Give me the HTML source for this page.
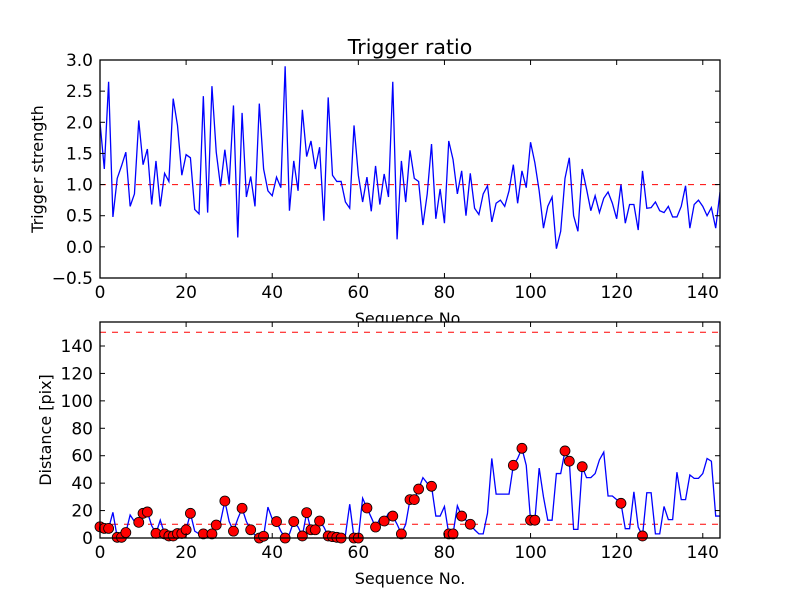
<!DOCTYPE html>
<html><head><meta charset="utf-8"><style>
html,body{margin:0;padding:0;background:#fff}
svg{display:block;font-family:"DejaVu Sans","Liberation Sans",sans-serif}
</style></head><body>
<svg id="chart" width="800" height="600" viewBox="0 0 800 600">
<rect width="800" height="600" fill="#fff"/>
<g id="top"></g>
<g id="bot"></g>
</svg>
<script>
const strength=[2.0,1.25,2.65,0.48,1.1,1.3,1.52,0.65,0.85,2.03,1.32,1.57,0.68,1.38,0.65,1.18,1.05,2.38,1.95,1.15,1.48,1.43,0.6,0.53,2.42,0.55,2.58,1.52,0.97,1.56,1.0,2.27,0.15,2.15,0.8,1.13,0.65,2.3,1.25,0.9,0.82,1.12,0.95,2.9,0.58,1.38,0.9,2.2,1.45,1.7,1.25,1.6,0.42,2.4,1.15,1.05,1.05,0.72,0.62,1.95,1.15,0.72,1.12,0.57,1.3,0.68,1.17,0.8,2.65,0.12,1.38,0.72,1.55,1.1,1.05,0.35,0.85,1.65,0.45,0.93,0.38,1.7,1.4,0.85,1.22,0.5,1.18,0.62,0.52,0.85,0.98,0.4,0.7,0.75,0.65,0.9,1.32,0.7,1.22,0.95,1.68,1.35,0.9,0.3,0.65,0.8,-0.03,0.25,1.1,1.43,0.5,0.25,1.25,0.93,0.58,0.82,0.55,0.78,0.88,0.7,0.45,1.0,0.38,0.68,0.68,0.27,1.22,0.62,0.63,0.72,0.58,0.55,0.65,0.48,0.48,0.65,0.98,0.3,0.68,0.75,0.65,0.5,0.63,0.3,0.88];
const distance=[8.2,7,7,18.7,0.5,0.5,4,16.8,12,11.4,18,19,9,3.4,13,3,1.5,1.5,3.3,3.3,6,18,5,3,3,3,3,9.5,12,27,12,5,14,21.7,12,6,2,0,1.3,22.5,14,12,5,0,3,12,8,1.5,18.5,6,6,12.4,8,1.5,1,0.5,0,2,24.6,0,0,29,21.9,15,8,14,12.4,18,16,10,3,10,28,28,35.7,44,40,37.7,16,16,23,3,3,23.5,16,13,10,6,3,3,18,58,32,32,32,32,53,58,65.4,53,13,13,51,30,13,13,47,47,63.5,56,6.3,6.3,52,44,44,47,57,62.6,30.6,30.6,28,25.3,6.8,6.8,33.7,8,1.5,33,33,3,3,23,13.4,13.4,48,28,28,46,43.5,43.5,47,58,56,16,16];
const markerIdx=[0,1,2,4,5,6,9,10,11,13,15,16,17,18,19,20,21,24,26,27,29,31,33,35,37,38,41,43,45,47,48,49,50,51,53,54,55,56,59,60,62,64,66,68,70,72,73,74,77,81,82,84,86,96,98,100,101,108,109,112,121,126];
const xTicks=[0,20,40,60,80,100,120,140];
const topYTicks=[-0.5,0.0,0.5,1.0,1.5,2.0,2.5,3.0];
const botYTicks=[0,20,40,60,80,100,120,140];
const topThreshold=[1.0];
const botThresholds=[10,150];

const NS="http://www.w3.org/2000/svg";
function mk(parent,tag,attrs){const e=document.createElementNS(NS,tag);for(const k in attrs)e.setAttribute(k,attrs[k]);parent.appendChild(e);return e;}
const L=100,R=720;
const xs=v=>L+(v-0)/(144-0)*(R-L);
const T={top:60,bot:278,min:-0.5,max:3.0};
const B={top:322,bot:538,min:0,max:157.5};
const ys=(ax,v)=>ax.bot-(v-ax.min)/(ax.max-ax.min)*(ax.bot-ax.top);
function fmtTop(v){return (v<0?"\u2212":"")+Math.abs(v).toFixed(1);}

function axes(g,ax,name){
  const cid="clip-"+name;
  const cp=mk(g,"clipPath",{id:cid});
  mk(cp,"rect",{x:L,y:ax.top,width:R-L,height:ax.bot-ax.top});
  const bg=mk(g,"rect",{x:L,y:ax.top,width:R-L,height:ax.bot-ax.top,fill:"#fff"});
  
  
  const plot=mk(g,"g",{"clip-path":"url(#"+cid+")"});
  
  
  return plot;
}
function frame(g,ax,yt,yfmt,name){
  xTicks.forEach(t=>{
    const x=xs(t);
    const a=mk(g,"line",{x1:x,x2:x,y1:ax.bot,y2:ax.bot-5,stroke:"#000","stroke-width":1});
    
    
    mk(g,"line",{x1:x,x2:x,y1:ax.top,y2:ax.top+5,stroke:"#000","stroke-width":1});
    const tx=mk(g,"text",{x:x,y:ax.bot+20,"text-anchor":"middle","font-size":17,fill:"#000"});
    tx.textContent=t;
    
    
  });
  yt.forEach(t=>{
    const y=ys(ax,t);
    const a=mk(g,"line",{x1:L,x2:L+5,y1:y,y2:y,stroke:"#000","stroke-width":1});
    
    
    mk(g,"line",{x1:R,x2:R-5,y1:y,y2:y,stroke:"#000","stroke-width":1});
    const tx=mk(g,"text",{x:L-7,y:y+6,"text-anchor":"end","font-size":17,fill:"#000"});
    tx.textContent=yfmt(t);
    
    
  });
  const f=mk(g,"rect",{x:L,y:ax.top,width:R-L,height:ax.bot-ax.top,fill:"none",stroke:"#000","stroke-width":1.3});
  
  
}

// TOP
const gt=document.getElementById("top");
const pt=axes(gt,T,"top");
topThreshold.forEach(v=>{
  const l=mk(pt,"line",{x1:L,x2:R,y1:ys(T,v),y2:ys(T,v),stroke:"#ff0000","stroke-width":1,"stroke-dasharray":"6,6"});
  
  
});
const tl=mk(pt,"polyline",{points:strength.map((v,i)=>xs(i)+","+ys(T,v)).join(" "),fill:"none",stroke:"#0000ff","stroke-width":1.3});


frame(gt,T,topYTicks,fmtTop,"top");
let t1=mk(gt,"text",{x:410,y:54,"text-anchor":"middle","font-size":20.5,fill:"#000"});
t1.textContent="Trigger ratio";


let t2=mk(gt,"text",{x:0,y:0,"text-anchor":"middle","font-size":16,fill:"#000",transform:"translate(43,169) rotate(-90)"});
t2.textContent="Trigger strength";


let t3=mk(gt,"text",{x:410,y:324,"text-anchor":"middle","font-size":16,fill:"#000"});
t3.textContent="Sequence No.";



// BOTTOM
const gb=document.getElementById("bot");
const pb=axes(gb,B,"bottom");
botThresholds.forEach(v=>{
  const l=mk(pb,"line",{x1:L,x2:R,y1:ys(B,v),y2:ys(B,v),stroke:"#ff0000","stroke-width":1,"stroke-dasharray":"6,6"});
  
  
});
const bl=mk(pb,"polyline",{points:distance.map((v,i)=>xs(i)+","+ys(B,v)).join(" "),fill:"none",stroke:"#0000ff","stroke-width":1.3});


const mg=mk(gb,"g",{});
markerIdx.forEach(i=>{
  const c=mk(mg,"circle",{cx:xs(i),cy:ys(B,distance[i]),r:5,fill:"#ff0000",stroke:"#000","stroke-width":0.8});
  
  
});
frame(gb,B,botYTicks,String,"bottom");
let t4=mk(gb,"text",{x:0,y:0,"text-anchor":"middle","font-size":16,fill:"#000",transform:"translate(51,430) rotate(-90)"});
t4.textContent="Distance [pix]";


let t5=mk(gb,"text",{x:410,y:584,"text-anchor":"middle","font-size":16,fill:"#000"});
t5.textContent="Sequence No.";


</script>
</body></html>
